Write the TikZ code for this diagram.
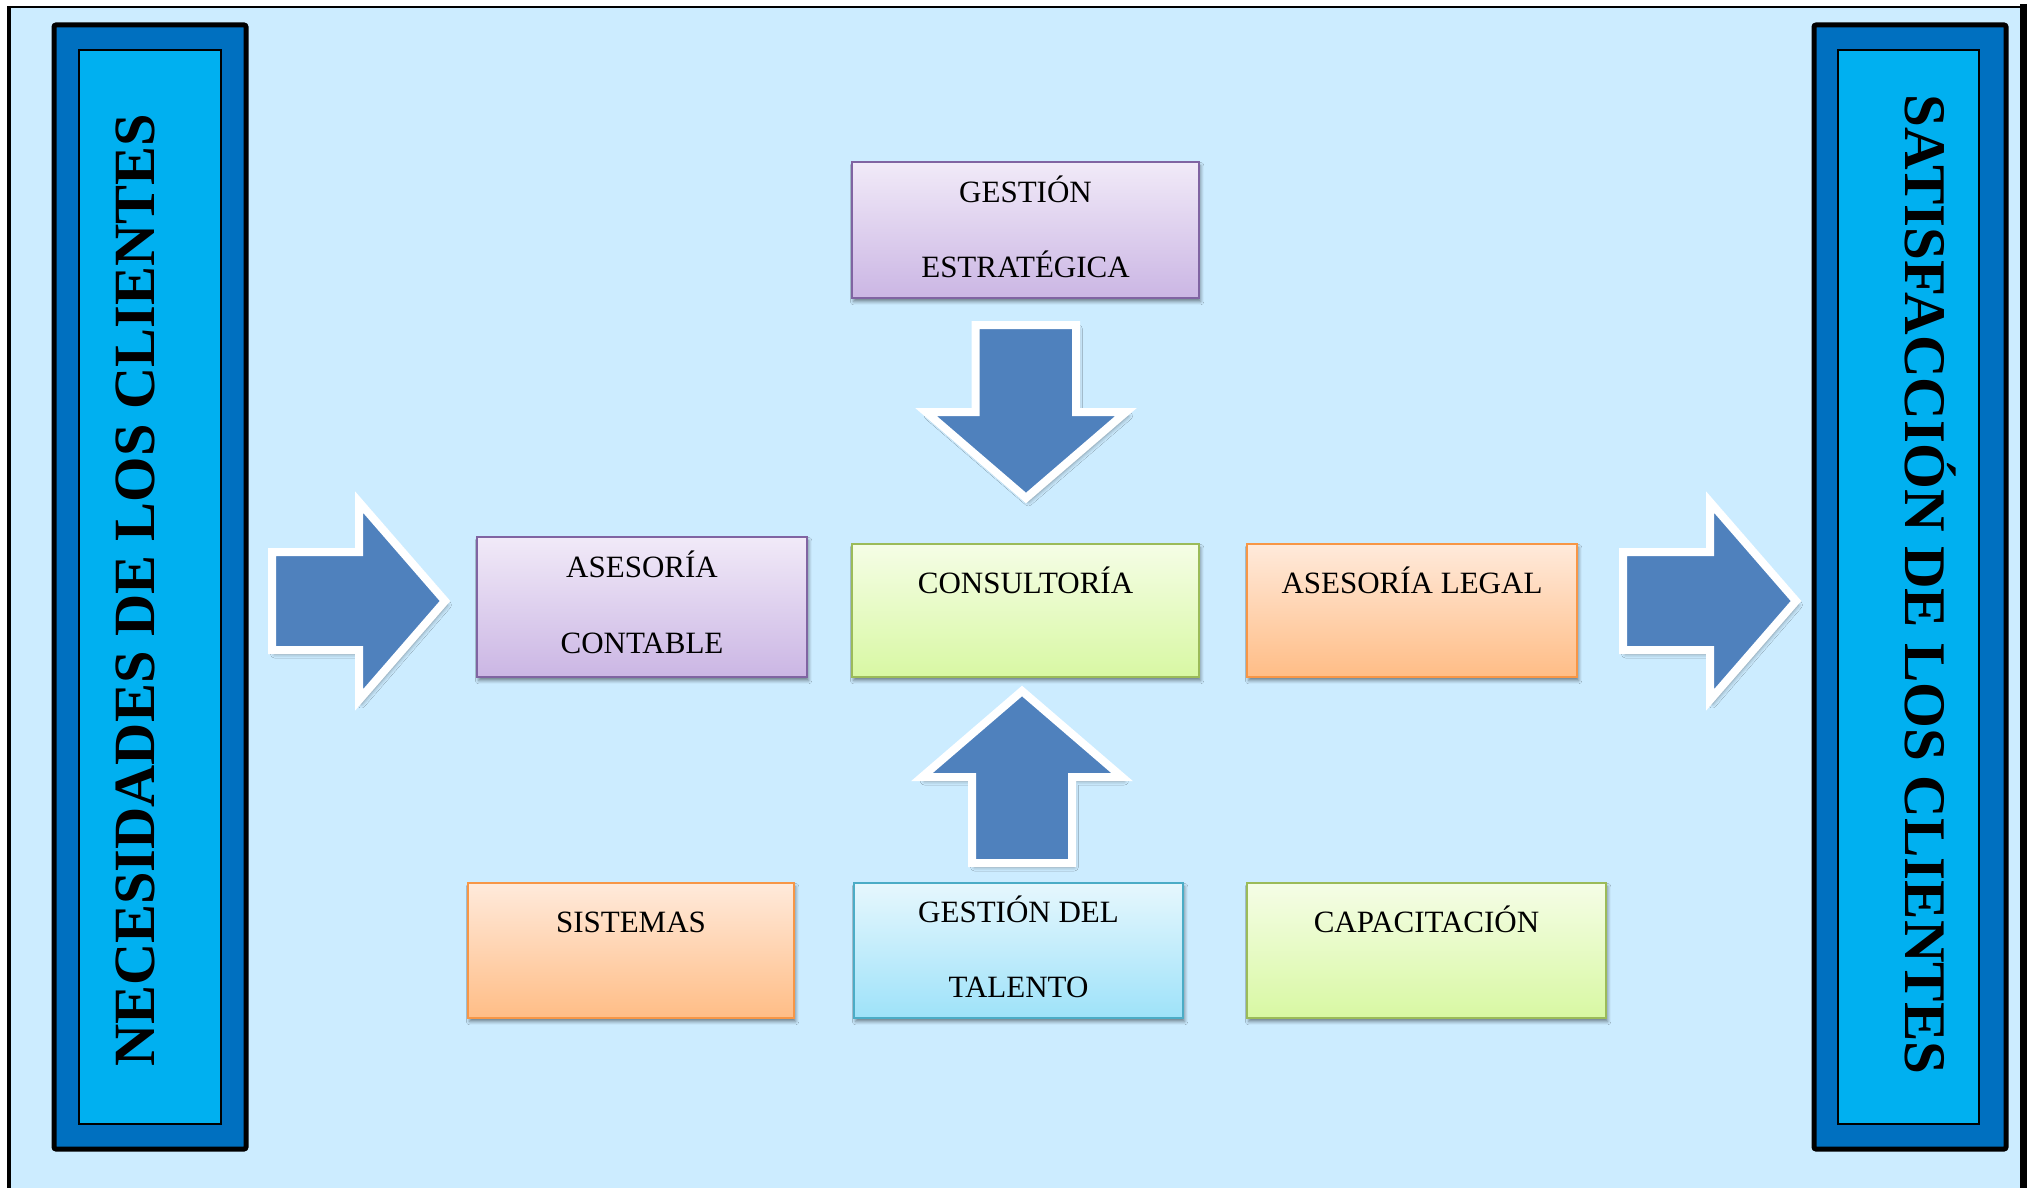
\documentclass[tikz,border=0pt]{standalone}
\usepackage{fontspec}
\setmainfont{Liberation Serif}
\usetikzlibrary{fit,shadows.blur}

\definecolor{bgblue}{HTML}{CCECFF}
\definecolor{bardark}{HTML}{0070C0}
\definecolor{barlight}{HTML}{00B0F0}
\definecolor{arrowblue}{HTML}{4F81BD}
\definecolor{purpleline}{HTML}{8064A2}
\definecolor{purpletop}{HTML}{F1EAF8}
\definecolor{purplebot}{HTML}{CBB6E4}
\definecolor{greenline}{HTML}{9BBB59}
\definecolor{greentop}{HTML}{F5FDE6}
\definecolor{greenbot}{HTML}{D8F8A3}
\definecolor{orangeline}{HTML}{F79646}
\definecolor{orangetop}{HTML}{FFEADB}
\definecolor{orangebot}{HTML}{FFBD86}
\definecolor{cyanline}{HTML}{4BACC6}
\definecolor{cyantop}{HTML}{E6F7FD}
\definecolor{cyanbot}{HTML}{9EE2F9}

\tikzset{
  boxshadow/.style={blur shadow={shadow xshift=0.8pt, shadow yshift=-1.8pt,
      shadow blur radius=1.6pt, shadow opacity=45}},
  cardbox/.style={inner sep=0pt, line width=1pt, boxshadow},
  purplecard/.style={cardbox, draw=purpleline, top color=purpletop, bottom color=purplebot},
  greencard/.style={cardbox, draw=greenline, top color=greentop, bottom color=greenbot},
  orangecard/.style={cardbox, draw=orangeline, top color=orangetop, bottom color=orangebot},
  cyancard/.style={cardbox, draw=cyanline, top color=cyantop, bottom color=cyanbot},
  cardtext/.style={anchor=base, inner sep=0pt, font=\fontsize{15.5}{18}\selectfont},
  sidetext/.style={anchor=base, inner sep=0pt, font=\fontsize{#1}{34}\selectfont\bfseries},
  blockarrow/.style={fill=arrowblue, draw=white, line width=4pt, line join=miter,
      blur shadow={shadow xshift=1.2pt, shadow yshift=-2pt, shadow blur radius=2pt, shadow opacity=40}},
}

\begin{document}
\begin{tikzpicture}[x=0.5pt, y=-0.5pt]
\useasboundingbox (0,0) rectangle (2031,1188);

% page background and frame
\fill[bgblue] (9,7) rectangle (2023,1188);
\draw[line width=1pt] (7,7) -- (2021,7);
\draw[line width=2pt] (9,7) -- (9,1188);
\draw[line width=3.5pt] (2023.5,4) -- (2023.5,1188);

% left column
\node[fit={(54,25) (246,1149)}, inner sep=0pt, fill=bardark, draw=black,
      line width=2.5pt, rounded corners=1pt] (leftbar) {};
\node[fit={(79,50) (221,1124)}, inner sep=0pt, fill=barlight, draw=black,
      line width=1pt] (leftinner) {};
\node[sidetext=29.2, rotate=90] (needs) at (154,590.5) {NECESIDADES DE LOS CLIENTES};

% right column
\node[fit={(1814,25) (2006,1149)}, inner sep=0pt, fill=bardark, draw=black,
      line width=2.5pt, rounded corners=1pt] (rightbar) {};
\node[fit={(1838,50) (1979,1124)}, inner sep=0pt, fill=barlight, draw=black,
      line width=1pt] (rightinner) {};
\node[sidetext=29.5, rotate=-90] (satisf) at (1905,584.5) {SATISFACCIÓN DE LOS CLIENTES};

% service cards
\node[purplecard, fit={(852,162) (1199,298)}] (estrat) {};
\node[cardtext] (estratA) at (1025.5,203) {GESTIÓN};
\node[cardtext] (estratB) at (1025.5,278) {ESTRATÉGICA};

\node[purplecard, fit={(477,537) (807,677)}] (contable) {};
\node[cardtext] (contableA) at (642,577) {ASESORÍA};
\node[cardtext] (contableB) at (642,653) {CONTABLE};

\node[greencard, fit={(852,544) (1199,677)}] (consult) {};
\node[cardtext] (consultA) at (1025.5,593) {CONSULTORÍA};

\node[orangecard, fit={(1247,544) (1577,677)}] (legal) {};
\node[cardtext] (legalA) at (1412,593) {ASESORÍA LEGAL};

\node[orangecard, fit={(468,883) (794,1018)}] (sistemas) {};
\node[cardtext] (sistemasA) at (631,932) {SISTEMAS};

\node[cyancard, fit={(854,883) (1183,1018)}] (talento) {};
\node[cardtext] (talentoA) at (1018.5,922) {GESTIÓN DEL};
\node[cardtext] (talentoB) at (1018.5,997) {TALENTO};

\node[greencard, fit={(1247,883) (1606,1018)}] (capacit) {};
\node[cardtext] (capacitA) at (1426.5,932) {CAPACITACIÓN};

% block arrows
\draw[blockarrow] (272,552) -- (359,552) -- (359,502) -- (445,601)
  -- (359,700) -- (359,650) -- (272,650) -- cycle;
\draw[blockarrow] (1623,552) -- (1710,552) -- (1710,502) -- (1796,601)
  -- (1710,700) -- (1710,650) -- (1623,650) -- cycle;
\draw[blockarrow] (975.5,325) -- (1076,325) -- (1076,412) -- (1126,412)
  -- (1026,498) -- (926,412) -- (975.5,412) -- cycle;
\draw[blockarrow] (972,863) -- (972,777) -- (922,777) -- (1022,691)
  -- (1122,777) -- (1072,777) -- (1072,863) -- cycle;
\end{tikzpicture}
\end{document}
